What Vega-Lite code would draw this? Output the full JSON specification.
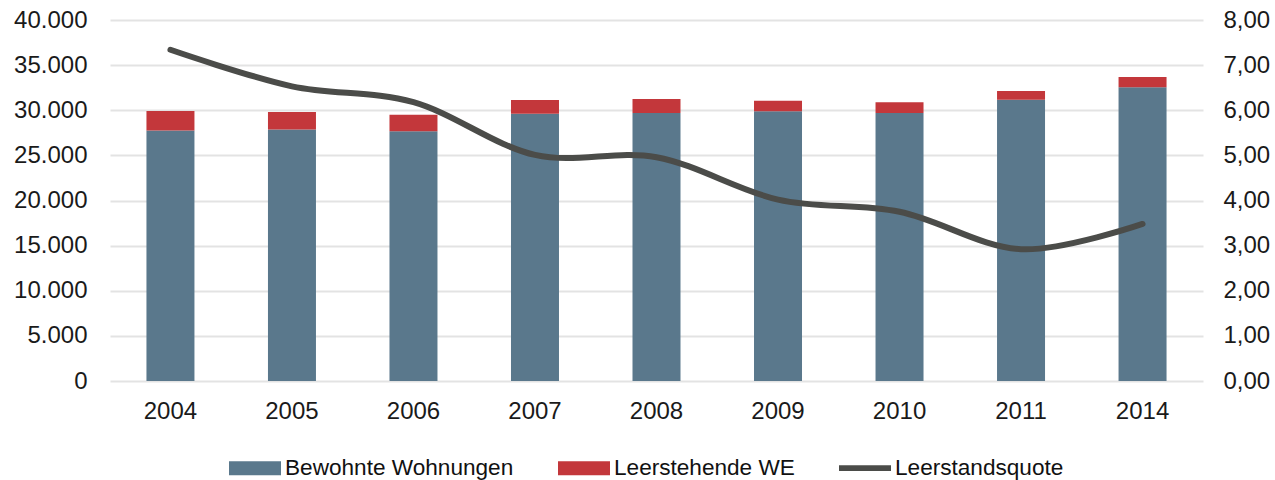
{
  "$schema": "https://vega.github.io/schema/vega-lite/v6.json",
  "autosize": {"type": "none"},
  "width": 1093,
  "height": 361,
  "padding": {"left": 110, "top": 20, "right": 72, "bottom": 99},
  "background": "white",
  "config": {
    "locale": {"number": {"decimal": ",", "thousands": ".", "grouping": [3], "currency": ["", " €"]}},
    "view": {"stroke": null},
    "font": "Liberation Sans",
    "axis": {"labelFont": "Liberation Sans", "labelFontSize": 24, "labelColor": "#1a1a1a", "domain": false, "ticks": false, "title": null}
  },
  "datasets": {
    "bars": [
      {"year": "2004", "series": "Bewohnte Wohnungen", "value": 27750},
      {"year": "2004", "series": "Leerstehende WE", "value": 2170},
      {"year": "2005", "series": "Bewohnte Wohnungen", "value": 27880},
      {"year": "2005", "series": "Leerstehende WE", "value": 1920},
      {"year": "2006", "series": "Bewohnte Wohnungen", "value": 27670},
      {"year": "2006", "series": "Leerstehende WE", "value": 1840},
      {"year": "2007", "series": "Bewohnte Wohnungen", "value": 29620},
      {"year": "2007", "series": "Leerstehende WE", "value": 1520},
      {"year": "2008", "series": "Bewohnte Wohnungen", "value": 29700},
      {"year": "2008", "series": "Leerstehende WE", "value": 1550},
      {"year": "2009", "series": "Bewohnte Wohnungen", "value": 29880},
      {"year": "2009", "series": "Leerstehende WE", "value": 1180},
      {"year": "2010", "series": "Bewohnte Wohnungen", "value": 29700},
      {"year": "2010", "series": "Leerstehende WE", "value": 1180},
      {"year": "2011", "series": "Bewohnte Wohnungen", "value": 31170},
      {"year": "2011", "series": "Leerstehende WE", "value": 960},
      {"year": "2014", "series": "Bewohnte Wohnungen", "value": 32540},
      {"year": "2014", "series": "Leerstehende WE", "value": 1140}
    ],
    "quote": [
      {"year": "2004", "series": "Leerstandsquote", "quote": 7.34},
      {"year": "2005", "series": "Leerstandsquote", "quote": 6.53},
      {"year": "2006", "series": "Leerstandsquote", "quote": 6.18},
      {"year": "2007", "series": "Leerstandsquote", "quote": 5.01},
      {"year": "2008", "series": "Leerstandsquote", "quote": 4.96},
      {"year": "2009", "series": "Leerstandsquote", "quote": 4.02},
      {"year": "2010", "series": "Leerstandsquote", "quote": 3.75},
      {"year": "2011", "series": "Leerstandsquote", "quote": 2.92},
      {"year": "2014", "series": "Leerstandsquote", "quote": 3.48}
    ]
  },
  "encoding": {
    "x": {
      "field": "year", "type": "nominal", "sort": null,
      "scale": {"paddingInner": 0.605, "paddingOuter": 0.3},
      "axis": {"labelAngle": 0, "labelPadding": 18, "grid": false}
    }
  },
  "layer": [
    {
      "data": {"name": "bars"},
      "mark": {"type": "bar"},
      "encoding": {
        "y": {
          "field": "value", "type": "quantitative", "stack": "zero",
          "scale": {"domain": [0, 40000], "nice": false},
          "axis": {"values": [0, 5000, 10000, 15000, 20000, 25000, 30000, 35000, 40000], "format": ",.0f", "grid": true, "gridColor": "#e3e3e3", "gridWidth": 2, "labelPadding": 23}
        },
        "order": {"field": "series", "sort": "ascending"},
        "color": {
          "field": "series", "type": "nominal",
          "scale": {"domain": ["Bewohnte Wohnungen", "Leerstehende WE", "Leerstandsquote"], "range": ["#5a788c", "#c3373b", "#4b4c49"]},
          "legend": {
            "title": null,
            "orient": "none",
            "legendX": 119,
            "legendY": 422,
            "direction": "horizontal",
            "columns": 3,
            "columnPadding": 44,
            "labelOffset": 4,
            "labelLimit": 400,
            "labelFont": "Liberation Sans",
            "labelFontSize": 22.6,
            "labelColor": "#111111",
            "symbolSize": 2704,
            "padding": 0,
            "encode": {
              "symbols": {
                "update": {
                  "shape": {"signal": "datum.value === 'Leerstandsquote' ? 'M-1,-0.11H1V0.11H-1Z' : 'M-1,-0.27H1V0.27H-1Z'"},
                  "fill": {"scale": "color", "field": "value"},
                  "stroke": {"value": "transparent"},
                  "strokeWidth": {"value": 0},
                  "opacity": {"value": 1}
                }
              }
            }
          }
        }
      }
    },
    {
      "data": {"name": "quote"},
      "mark": {"type": "line", "interpolate": "cardinal", "strokeWidth": 6, "strokeCap": "round"},
      "encoding": {
        "y": {
          "field": "quote", "type": "quantitative",
          "scale": {"domain": [0, 8], "nice": false},
          "axis": {"orient": "right", "values": [0, 1, 2, 3, 4, 5, 6, 7, 8], "format": ".2f", "grid": false, "labelPadding": 20}
        },
        "color": {"field": "series", "type": "nominal"}
      }
    }
  ],
  "resolve": {"scale": {"y": "independent"}}
}
